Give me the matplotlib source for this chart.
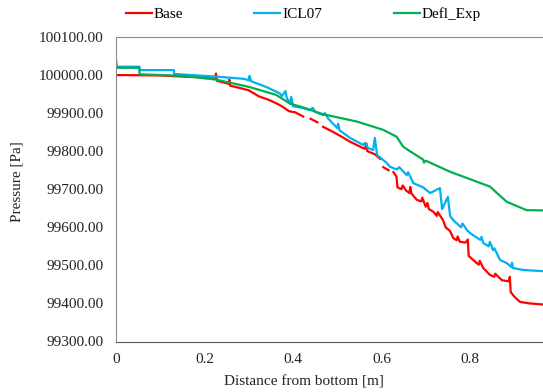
import numpy as np
import matplotlib
matplotlib.use("Agg")
import matplotlib.pyplot as plt
from matplotlib.ticker import FuncFormatter

plt.rcParams['font.family'] = ['Liberation Serif', 'DejaVu Serif']

# Base (red)
base_x = [0, 0.10, 0.15, 0.20, 0.224, 0.226, 0.228, 0.255, 0.256, 0.258, 0.28, 0.30,
          0.323, 0.345, 0.362, 0.375, 0.391, 0.405, 0.423, 0.43, 0.44, 0.455, 0.46,
          0.468, 0.49, 0.51, 0.529, 0.548, 0.562, 0.566, 0.568, 0.585, 0.597, 0.60,
          0.604, 0.616, 0.62, 0.627, 0.634, 0.636, 0.645, 0.648, 0.655, 0.663, 0.665,
          0.668, 0.68, 0.69, 0.692, 0.70, 0.704, 0.707, 0.717, 0.725, 0.727, 0.739, 0.745,
          0.755, 0.762, 0.77, 0.772, 0.777, 0.79, 0.795, 0.797, 0.815, 0.82, 0.822, 0.83,
          0.845, 0.855, 0.857, 0.872, 0.888, 0.89, 0.892, 0.90, 0.913, 0.935, 0.99]
base_p = [100000, 99999, 99996, 99994, 99990, 100004, 99985, 99977, 99988, 99972, 99966, 99960,
          99944, 99935, 99926, 99918, 99905, 99902, 99891, np.nan, 99885, 99876, np.nan,
          99864, 99851, 99838, 99825, 99814, 99806, 99820, 99800, 99792, 99780, np.nan,
          99758, 99750, np.nan, 99745, 99733, 99705, 99700, 99710, 99697, 99690, 99706,
          99688, 99672, 99668, 99678, 99654, 99664, 99648, 99641, 99630, 99640, 99619, 99600,
          99590, 99572, 99566, 99576, 99562, 99560, 99568, 99525, 99506, 99502, 99512, 99493,
          99475, 99470, 99478, 99461, 99458, 99470, 99430, 99418, 99404, 99400, 99395]

# ICL07 (blue)
icl_x = [0, 0.053, 0.053, 0.131, 0.131, 0.226, 0.29, 0.30, 0.302, 0.305, 0.339, 0.37,
         0.375, 0.383, 0.386, 0.393, 0.396, 0.40, 0.42, 0.438, 0.445, 0.45, 0.468, 0.472,
         0.48, 0.50, 0.502, 0.505, 0.529, 0.559, 0.562, 0.57, 0.581, 0.585, 0.59, 0.612,
         0.619, 0.635, 0.64, 0.657, 0.66, 0.672, 0.694, 0.71, 0.732, 0.737, 0.75, 0.755,
         0.762, 0.78, 0.783, 0.793, 0.80, 0.823, 0.826, 0.83, 0.842, 0.845, 0.852, 0.855,
         0.868, 0.883, 0.893, 0.895, 0.897, 0.92, 0.99]
icl_p = [100022, 100022, 100013, 100013, 100003, 99996, 99990, 99986, 99998, 99984, 99969, 99952,
         99945, 99958, 99940, 99925, 99943, 99918, 99914, 99908, 99914, 99903, 99895, 99900,
         99885, 99861, 99872, 99855, 99835, 99816, 99822, 99808, 99803, 99835, 99790, 99769,
         99759, 99752, 99758, 99737, 99745, 99716, 99705, 99690, 99703, 99648, 99680, 99630,
         99619, 99600, 99610, 99593, 99585, 99567, 99575, 99559, 99550, 99562, 99540, 99545,
         99514, 99506, 99496, 99507, 99493, 99488, 99483]

# Defl_Exp (green)
defl_x = [0, 0.002, 0.053, 0.053, 0.15, 0.226, 0.30, 0.362, 0.393, 0.423, 0.468, 0.544,
          0.604, 0.634, 0.649, 0.664, 0.694, 0.696, 0.70, 0.755, 0.815, 0.845, 0.883, 0.928, 0.99]
defl_p = [100040, 100019, 100019, 100002, 99998, 99988, 99969, 99948, 99925, 99915, 99897, 99878,
          99856, 99838, 99812, 99800, 99778, 99770, 99775, 99746, 99720, 99707, 99667, 99645, 99644]

fig = plt.figure(figsize=(5.43, 3.92), dpi=100)
ax = fig.add_axes([116 / 543, 1 - 341.5 / 392, 442.5 / 543, 304.5 / 392])

ax.plot(base_x, base_p, color='#FF0000', lw=1.6, label='Base')
ax.plot(icl_x, icl_p, color='#00B0F0', lw=1.6, label='ICL07')
ax.plot(defl_x, defl_p, color='#00B050', lw=1.6, label='Defl_Exp')

ax.set_xlim(0, 1)
ax.set_ylim(99300, 100100)
ax.set_xticks([0, 0.2, 0.4, 0.6, 0.8])
ax.set_yticks(np.arange(99300, 100101, 100))
ax.xaxis.set_major_formatter(FuncFormatter(lambda v, p: '%g' % v))
ax.yaxis.set_major_formatter(FuncFormatter(lambda v, p: '%.2f' % v))
ax.tick_params(axis='both', length=0, labelsize=11, colors='#222222')
ax.tick_params(axis='y', pad=9)
ax.tick_params(axis='x', pad=8)

for s in ['top', 'left', 'right']:
    ax.spines[s].set_color('#8c8c8c')
ax.spines['bottom'].set_color('#595959')

ax.set_xlabel('Distance from bottom [m]', fontsize=11, color='#222222')
ax.set_ylabel('Pressure [Pa]', fontsize=11, color='#222222')
ax.xaxis.set_label_coords(0.425, -0.11)
ax.yaxis.set_label_coords(-0.208, 0.524)

fig.legend(loc='center', bbox_to_anchor=(303 / 543, 1 - 14.5 / 392), ncol=3, frameon=False,
           fontsize=11, handlelength=1.7, handletextpad=0.1, columnspacing=4.7, borderpad=0)

fig.savefig('out.png', dpi=100)
